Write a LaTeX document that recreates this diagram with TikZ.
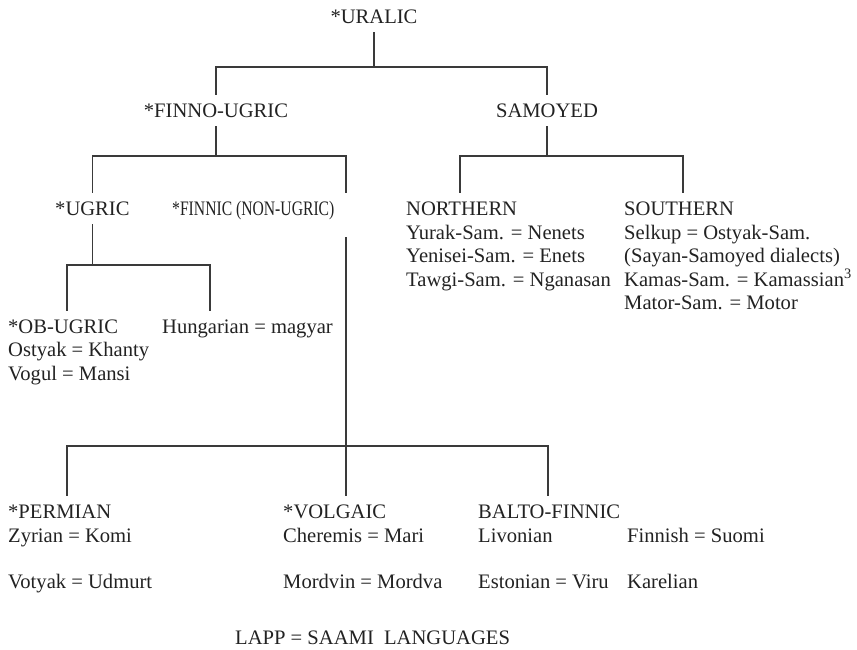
\documentclass[tikz,border=0pt]{standalone}
\usepackage{fontspec}
\usepackage{graphicx}
\setmainfont{Liberation Serif}
\definecolor{inkc}{HTML}{222222}
\definecolor{linec}{HTML}{3A3A3A}
\begin{document}
\begin{tikzpicture}[x=1pt,y=-1pt,
  every node/.style={font=\fontsize{20.6}{24}\selectfont, text=inkc, inner sep=0pt},
  hd/.style={anchor=base west, text height=17pt, text depth=4pt, inner ysep=5pt},
  hdc/.style={anchor=base, text height=17pt, text depth=4pt, inner ysep=5pt},
  ln/.style={anchor=base west},
  conn/.style={draw=linec, line width=1.5pt}]
\useasboundingbox (0,0) rectangle (857,649);
% levels of brackets
\coordinate (b1) at (0,67);
\coordinate (b2) at (0,156);
\coordinate (b3) at (0,265);
\coordinate (b4) at (0,446);
% headers
\node[hdc] (uralic) at (374,23) {*URALIC};
\node[hdc] (fu) at (216,117) {*FINNO-UGRIC};
\node[hdc] (sam) at (547,117) {SAMOYED};
\node[hd] (ugric) at (55,215) {*UGRIC};
\node[hd] (finnic) at (172,215) {\scalebox{0.76}[1]{*FINNIC (NON-UGRIC)}};
\node[hd] (north) at (406,215) {NORTHERN};
\node[hd] (south) at (624,215) {SOUTHERN};
\node[hd] (ob) at (8,333) {*OB-UGRIC};
\node[hd] (hung) at (162,333) {Hungarian = magyar};
\node[hd] (perm) at (8,518) {*PERMIAN};
\node[hd] (volg) at (283,518) {*VOLGAIC};
\node[hd] (balto) at (478,518) {BALTO-FINNIC};
% member lines
\node[ln] (n1) at (406,239) {Yurak-Sam. = Nenets};
\node[ln] (n2) at (406,262.5) {Yenisei-Sam. = Enets};
\node[ln] (n3) at (406,286) {Tawgi-Sam. = Nganasan};
\node[ln] (s1) at (624,239) {Selkup = Ostyak-Sam.};
\node[ln] (s2) at (624,262.5) {(Sayan-Samoyed dialects)};
\node[ln] (s3) at (624,286) {Kamas-Sam. = Kamassian\textsuperscript{3}};
\node[ln] (s4) at (624,309.5) {Mator-Sam. = Motor};
\node[ln] (o1) at (8,356.5) {Ostyak = Khanty};
\node[ln] (o2) at (8,380) {Vogul = Mansi};
\node[ln] (p1) at (8,542) {Zyrian = Komi};
\node[ln] (p2) at (8,588) {Votyak = Udmurt};
\node[ln] (v1) at (283,542) {Cheremis = Mari};
\node[ln] (v2) at (283,588) {Mordvin = Mordva};
\node[ln] (bf1) at (478,542) {Livonian};
\node[ln] (bf2) at (478,588) {Estonian = Viru};
\node[ln] (bf3) at (627,542) {Finnish = Suomi};
\node[ln] (bf4) at (627,588) {Karelian};
\node[ln] (lapp) at (235,644) {LAPP = SAAMI\ \ LANGUAGES};
% stem points
\coordinate (fin-top) at ([xshift=174pt]finnic.north west);
\coordinate (fin-bot) at ([xshift=174pt,yshift=-13pt]finnic.south west);
\coordinate (no-top) at ([xshift=54pt]north.north west);
\coordinate (so-top) at ([xshift=59pt]south.north west);
\coordinate (ob-top) at ([xshift=59pt]ob.north west);
\coordinate (hu-top) at ([xshift=48pt]hung.north west);
\coordinate (pe-top) at ([xshift=59pt]perm.north west);
\coordinate (vo-top) at ([xshift=63pt]volg.north west);
\coordinate (ba-top) at ([xshift=70pt]balto.north west);
% connectors
\draw[conn] (uralic.south) -- (uralic.south |- b1);
\draw[conn] (fu.north) -- (fu.north |- b1) -- (sam.north |- b1) -- (sam.north);
\draw[conn] (fu.south) -- (fu.south |- b2);
\draw[conn] (ugric.north) -- (ugric.north |- b2) -- (fin-top |- b2) -- (fin-top);
\draw[conn] (sam.south) -- (sam.south |- b2);
\draw[conn] (no-top) -- (no-top |- b2) -- (so-top |- b2) -- (so-top);
\draw[conn] (ugric.south) -- (ugric.south |- b3);
\draw[conn] (ob-top) -- (ob-top |- b3) -- (hu-top |- b3) -- (hu-top);
\draw[conn] (fin-bot) -- (vo-top);
\draw[conn] (pe-top) -- (pe-top |- b4) -- (ba-top |- b4) -- (ba-top);
\end{tikzpicture}
\end{document}
